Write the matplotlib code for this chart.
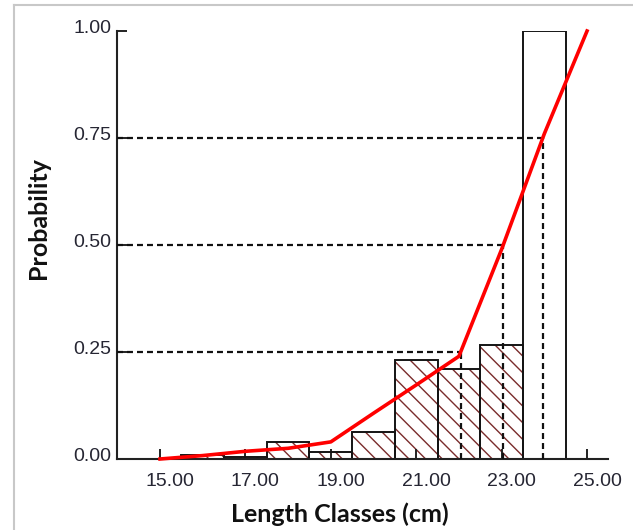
import numpy as np
import matplotlib
matplotlib.use("Agg")
import matplotlib.pyplot as plt
from matplotlib.transforms import ScaledTranslation

# ---- data ----
length_classes = [15, 16, 17, 18, 19, 20, 21, 22, 23, 24]
class_prob = [0.0, 0.010, 0.005, 0.040, 0.017, 0.063, 0.231, 0.210, 0.266, 1.0]
hatched = [True, True, True, True, True, True, True, True, True, False]

curve_x = [15, 16, 17, 18, 19, 20, 21, 22, 23, 24, 25]
curve_y = [0.0, 0.008, 0.018, 0.025, 0.040, 0.107, 0.173, 0.240, 0.490, 0.760, 1.0]

ref_levels = [0.25, 0.50, 0.75]
xtick_vals = [15, 17, 19, 21, 23, 25]
xtick_labels = ["15.00", "17.00", "19.00", "21.00", "23.00", "25.00"]
ytick_vals = [0.0, 0.25, 0.50, 0.75, 1.00]
ytick_labels = ["0.00", "0.25", "0.50", "0.75", "1.00"]

plt.rcParams['lines.scale_dashes'] = False
plt.rcParams['hatch.linewidth'] = 1.0

W, H = 633, 530
fig = plt.figure(figsize=(W / 100, H / 100), dpi=100)
ax = fig.add_axes([117.3 / W, 71 / H, 491.1 / W, 428 / H])

# hatched fill (brown hatch)
for x, p, h in zip(length_classes, class_prob, hatched):
    if h and p > 0:
        ax.bar(x, p, width=1.0, color='white', edgecolor='#7a2c2c',
               hatch='\\\\', linewidth=0, zorder=1)
# black outlines
ax.bar(length_classes, class_prob, width=1.0, facecolor='none',
       edgecolor='#141414', linewidth=1.4, zorder=2)

# dashed reference lines
xs = np.array(curve_x, dtype=float)
ys = np.array(curve_y, dtype=float)
for lvl in ref_levels:
    xl = np.interp(lvl, ys, xs)
    ax.plot([14, xl], [lvl, lvl], color='#111111', lw=1.6,
            dashes=(4.3, 2.9), zorder=3, solid_capstyle='butt')
    ax.plot([xl, xl], [0, lvl], color='#111111', lw=1.6,
            dashes=(4.3, 2.9), zorder=3)

# red curve
ax.plot(curve_x, curve_y, color='#ff0000', lw=2.6, zorder=4,
        solid_joinstyle='round', clip_on=False)

ax.set_xlim(14, 25.5)
ax.set_ylim(0, 1.0)
for s in ['top', 'right']:
    ax.spines[s].set_visible(False)
for s in ['left', 'bottom']:
    ax.spines[s].set_color('#222222')
    ax.spines[s].set_linewidth(1.5)

ax.set_xticks(xtick_vals, xtick_labels)
ax.set_yticks(ytick_vals, ytick_labels)
ax.tick_params(axis='both', direction='in', length=7, width=1.4,
               color='#222222', labelcolor='#262633')
ax.tick_params(axis='x', pad=10)
ax.tick_params(axis='y', pad=4.3)
for lab in ax.get_xticklabels() + ax.get_yticklabels():
    lab.set_fontfamily('Liberation Sans')
    lab.set_fontsize(14)
for lab in ax.get_xticklabels():
    lab.set_transform(lab.get_transform() + ScaledTranslation(0.10, 0, fig.dpi_scale_trans))
for lab in ax.get_yticklabels():
    lab.set_transform(lab.get_transform() + ScaledTranslation(0, 0.045, fig.dpi_scale_trans))

fig.text(39 / W, 1 - 218 / H, "Probability", rotation=90, ha='center', va='center',
         fontfamily='Lato', fontweight='bold', fontsize=18, color='#111111')
fig.text(340 / W, 1 - 514 / H, "Length Classes (cm)", ha='center', va='center',
         fontfamily='Lato', fontweight='bold', fontsize=18, color='#111111')

# light gray frame of the picture
fig.add_artist(plt.Line2D([13.5 / W, 13.5 / W], [0, 1 - 4.5 / H], transform=fig.transFigure,
                          color='#c8c8c8', lw=1.5))
fig.add_artist(plt.Line2D([13.5 / W, 1], [1 - 4.5 / H, 1 - 4.5 / H], transform=fig.transFigure,
                          color='#c8c8c8', lw=1.5))

fig.savefig("out.png", dpi=100)
